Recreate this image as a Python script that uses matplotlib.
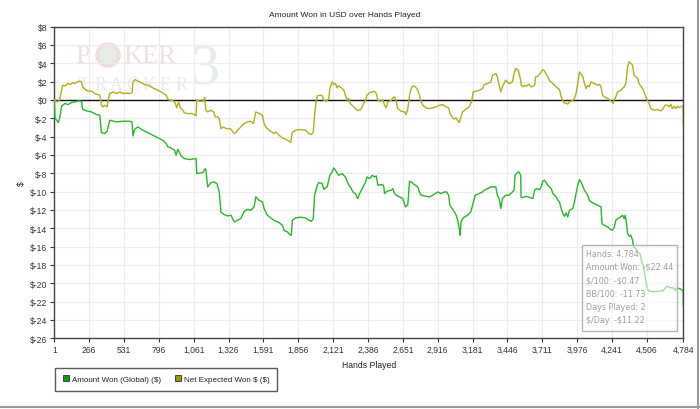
import matplotlib
matplotlib.use("Agg")
import matplotlib.pyplot as plt
from matplotlib.patches import Rectangle, Circle
from matplotlib.lines import Line2D
from matplotlib.transforms import IdentityTransform

plt.rcParams['font.family'] = ['Liberation Sans', 'DejaVu Sans']

# Amount Won (Global) ($)
won_hands = [1, 6, 19, 31, 44, 57, 82, 107, 132, 157, 183, 208, 216, 246, 284, 322, 347, 359, 385, 402,
             423, 473, 523, 574, 592, 599, 612, 637, 675, 725, 776, 826, 852, 864, 889, 915, 927, 940, 965, 990,
             1028, 1079, 1084, 1129, 1149, 1154, 1167, 1192, 1217, 1238, 1255, 1268, 1293, 1318, 1344, 1369, 1394, 1419, 1445, 1470,
             1495, 1520, 1533, 1558, 1583, 1596, 1621, 1647, 1672, 1710, 1735, 1748, 1773, 1793, 1803, 1811, 1836, 1874, 1912, 1937,
             1955, 1970, 1980, 2000, 2013, 2038, 2050, 2076, 2096, 2114, 2126, 2146, 2164, 2189, 2214, 2240, 2252, 2272, 2290, 2308,
             2323, 2348, 2368, 2378, 2399, 2419, 2436, 2449, 2462, 2487, 2505, 2512, 2530, 2563, 2575, 2588, 2601, 2626, 2651, 2671,
             2689, 2702, 2714, 2739, 2765, 2777, 2790, 2815, 2853, 2878, 2898, 2916, 2941, 2967, 2984, 2999, 3009, 3035, 3055, 3068,
             3080, 3088, 3093, 3110, 3143, 3168, 3181, 3201, 3232, 3257, 3270, 3295, 3320, 3358, 3370, 3383, 3396, 3408, 3433, 3459,
             3484, 3497, 3504, 3522, 3534, 3547, 3550, 3565, 3590, 3615, 3640, 3653, 3666, 3691, 3703, 3716, 3729, 3754, 3779, 3792,
             3817, 3830, 3842, 3855, 3868, 3880, 3893, 3905, 3918, 3943, 3956, 3968, 3981, 3994, 4006, 4032, 4057, 4069, 4082, 4107,
             4133, 4158, 4165, 4183, 4208, 4233, 4246, 4259, 4271, 4284, 4309, 4322, 4334, 4342, 4352, 4360, 4372, 4385, 4398, 4405,
             4423, 4430, 4455, 4468, 4480, 4493, 4506, 4518, 4544, 4582, 4632, 4658, 4683, 4708, 4721, 4733, 4759, 4782, 4784]
won_values = [0.0, -1.96, -2.22, -2.47, -1.85, -0.65, -0.4, -0.51, -0.29, -0.22, -0.11, -0.15, -1.02, -1.2, -1.31, -1.6, -1.67, -3.56, -3.67, -3.42,
              -2.22, -2.4, -2.33, -2.33, -2.4, -3.93, -3.2, -2.95, -3.31, -3.67, -4.04, -4.4, -4.76, -5.13, -5.24, -5.49, -6.04, -5.38, -6.11, -6.4,
              -6.51, -6.4, -8.04, -7.93, -7.49, -7.67, -9.49, -9.02, -8.95, -9.13, -10.04, -12.22, -12.51, -12.65, -12.58, -13.31, -13.13, -12.95, -12.15, -11.93,
              -12.04, -11.67, -10.58, -10.95, -11.13, -11.85, -12.58, -12.87, -13.13, -13.38, -13.67, -14.22, -14.4, -14.69, -14.76, -13.13, -12.87, -12.8, -12.87, -13.13,
              -13.24, -12.95, -10.4, -9.31, -9.02, -9.13, -9.75, -9.49, -8.22, -7.85, -7.42, -7.85, -8.22, -8.04, -8.4, -9.31, -9.49, -10.04, -10.22, -10.76,
              -10.2, -9.5, -8.95, -8.4, -8.58, -8.22, -8.4, -8.29, -9.31, -9.24, -9.31, -10.22, -9.96, -9.85, -9.67, -10.22, -10.4, -10.58, -10.76, -11.67,
              -11.42, -8.87, -8.95, -9.24, -9.49, -10.04, -10.4, -10.47, -10.58, -10.4, -10.22, -10.04, -10.22, -10.04, -10.04, -10.4, -11.49, -12.04, -12.51, -13.13,
              -14.04, -14.76, -13.31, -12.87, -12.58, -12.22, -11.49, -10.4, -10.22, -10.04, -9.85, -9.67, -9.49, -9.49, -10.4, -10.76, -11.85, -10.76, -10.4, -10.4,
              -10.04, -9.85, -8.22, -7.93, -7.85, -8.22, -10.6, -10.65, -10.51, -10.65, -10.76, -9.85, -9.67, -9.78, -9.49, -8.84, -8.76, -9.31, -9.67, -10.22,
              -10.58, -10.95, -11.13, -11.85, -12.4, -12.69, -12.33, -12.76, -12.04, -11.85, -11.13, -10.22, -9.31, -8.69, -8.95, -9.85, -10.4, -10.95, -11.13, -11.31,
              -11.49, -11.67, -13.49, -13.67, -13.85, -14.15, -14.22, -13.85, -13.13, -12.95, -12.76, -12.58, -12.95, -12.58, -13.49, -14.58, -14.87, -14.76, -15.31, -16.0,
              -16.2, -16.5, -16.8, -17.7, -18.1, -19.2, -20.3, -20.8, -20.9, -20.9, -20.8, -20.3, -20.5, -20.5, -20.8, -20.5, -20.6, -20.8, -22.44]

# Net Expected Won $ ($)
ev_hands = [1, 14, 24, 39, 51, 64, 82, 94, 107, 125, 140, 157, 175, 195, 208, 216, 233, 258, 284, 309,
            347, 359, 372, 385, 402, 410, 423, 448, 473, 498, 523, 561, 574, 592, 599, 612, 637, 662, 687, 713,
            751, 788, 826, 852, 864, 882, 902, 922, 932, 947, 960, 978, 990, 1016, 1041, 1066, 1079, 1084, 1104, 1129,
            1145, 1152, 1167, 1192, 1212, 1225, 1243, 1255, 1268, 1288, 1306, 1331, 1344, 1369, 1382, 1394, 1419, 1445, 1470, 1495,
            1515, 1533, 1558, 1583, 1596, 1609, 1634, 1672, 1684, 1710, 1735, 1760, 1785, 1798, 1811, 1836, 1874, 1912, 1937, 1955,
            1970, 1980, 1988, 2000, 2025, 2038, 2050, 2063, 2088, 2096, 2114, 2126, 2139, 2151, 2164, 2189, 2202, 2214, 2227, 2240,
            2252, 2265, 2277, 2303, 2323, 2336, 2353, 2368, 2378, 2399, 2419, 2436, 2449, 2462, 2479, 2500, 2512, 2525, 2537, 2563,
            2575, 2588, 2601, 2613, 2638, 2664, 2676, 2689, 2702, 2714, 2727, 2747, 2765, 2777, 2790, 2803, 2828, 2853, 2878, 2903,
            2929, 2954, 2979, 2999, 3009, 3025, 3042, 3055, 3068, 3080, 3093, 3105, 3131, 3156, 3168, 3176, 3186, 3206, 3232, 3257,
            3270, 3295, 3320, 3333, 3358, 3370, 3383, 3396, 3408, 3433, 3459, 3484, 3497, 3509, 3529, 3547, 3552, 3565, 3577, 3590,
            3610, 3628, 3640, 3653, 3661, 3678, 3696, 3716, 3729, 3741, 3754, 3767, 3779, 3792, 3805, 3817, 3830, 3842, 3855, 3868,
            3880, 3893, 3905, 3918, 3943, 3956, 3968, 3981, 3994, 4006, 4019, 4032, 4044, 4057, 4069, 4082, 4107, 4133, 4145, 4158,
            4170, 4183, 4196, 4221, 4241, 4251, 4259, 4271, 4284, 4309, 4334, 4347, 4360, 4372, 4385, 4398, 4410, 4423, 4436, 4448,
            4473, 4486, 4499, 4511, 4524, 4537, 4562, 4587, 4612, 4630, 4645, 4663, 4675, 4688, 4701, 4713, 4726, 4739, 4751, 4771,
            4782, 4784]
ev_values = [0.0, -0.15, -0.22, -0.04, 0.69, 1.6, 1.53, 1.67, 1.78, 1.67, 1.89, 1.78, 1.96, 2.04, 1.96, 1.42, 1.16, 0.95, 0.95, 0.69,
             0.51, -0.58, -0.76, -0.58, -0.76, -0.04, 0.69, 0.87, 0.69, 0.87, 0.69, 0.73, 0.69, 0.8, 1.89, 2.22, 2.04, 1.89, 1.67, 1.6,
             1.31, 1.05, 0.76, 0.51, 0.07, -0.04, -0.04, -0.4, -0.87, -0.22, -0.87, -1.13, -1.42, -1.49, -1.49, -1.6, -1.75, 0.0, -0.15, -0.15,
             0.25, -1.13, -1.31, -1.13, -1.31, -1.85, -1.85, -2.04, -3.13, -2.95, -3.13, -3.13, -3.2, -3.67, -3.56, -3.31, -2.95, -2.58, -2.4, -2.33,
             -2.58, -1.31, -1.49, -1.67, -2.58, -2.95, -3.31, -3.67, -3.49, -3.85, -4.15, -4.29, -4.51, -4.65, -3.56, -3.31, -3.24, -3.31, -3.67, -3.78,
             -3.49, -1.67, -0.58, 0.44, 0.51, 0.44, -0.04, -0.15, 0.07, 1.24, 1.96, 1.67, 1.78, 1.31, 1.53, 1.24, 1.05, 0.51, -0.04, 0.15,
             -0.4, -0.58, -0.76, -1.13, -1.13, -0.95, -0.4, -0.04, 0.51, 0.8, 0.87, 0.95, 0.69, -0.04, -0.15, -0.04, -0.58, -0.87, -0.22, -0.04,
             0.22, 0.33, -0.22, -0.95, -1.24, -1.31, -1.6, -0.95, 0.51, 1.24, 1.53, 1.42, 1.05, 0.51, -0.22, -0.58, -0.87, -0.95, -0.87, -0.76,
             -0.58, -0.51, -0.76, -0.87, -1.49, -1.85, -2.11, -1.96, -2.22, -2.47, -1.85, -1.31, -1.02, -0.76, -0.4, -0.04, 0.87, 0.95, 1.05, 1.24,
             1.67, 1.78, 1.96, 2.69, 2.87, 2.51, 1.6, 0.87, 1.42, 2.15, 1.78, 1.96, 2.87, 3.42, 3.24, 2.15, 1.6, 1.42, 1.6, 1.49,
             1.71, 1.42, 1.49, 1.6, 2.51, 2.58, 2.87, 3.31, 3.16, 2.8, 2.51, 2.07, 1.96, 1.78, 1.6, 1.42, 1.24, 1.13, 0.33, -0.04,
             -0.4, -0.33, -0.47, -0.22, -0.04, 0.15, 0.69, 1.78, 3.05, 2.8, 2.58, 1.78, 1.24, 1.6, 1.42, 1.96, 1.78, 1.6, 1.71, 1.42,
             0.51, 0.33, 0.25, 0.04, -0.22, -0.4, 0.04, 0.33, 0.87, 1.05, 1.42, 1.78, 3.6, 4.15, 3.96, 3.78, 2.69, 2.51, 2.33, 1.78,
             1.24, 0.87, 0.33, -0.04, -0.4, -0.95, -1.13, -1.05, -1.2, -0.95, -0.58, -0.58, -0.76, -0.47, -0.95, -0.69, -0.95, -0.69, -0.84, -0.69,
             -0.75, -2.6]

x_ticks = [1, 266, 531, 796, 1061, 1326, 1591, 1856, 2121, 2386, 2651, 2916, 3181, 3446, 3711, 3976, 4241, 4506, 4784]
y_ticks = list(range(-26, 9, 2))

series_labels = ["Amount Won (Global) ($)", "Net Expected Won $ ($)"]
info_lines = ["Hands: 4,784", "Amount Won: -$22.44", "$/100: -$0.47",
              "BB/100: -11.73", "Days Played: 2", "$/Day: -$11.22"]

won_color = '#2bb52b'
ev_color = '#b0b019'

W, H = 700, 410
fig = plt.figure(figsize=(7, 4.1), dpi=100)
ax = fig.add_axes([0.0776, 0.1724, 0.8986, 0.7605])
px = IdentityTransform()

# faint PokerTracker 3 watermark, in pixel coordinates (y measured from top)
wm_pink = '#f2dede'
ax.text(75, H - 57, "P", transform=px, fontsize=19, family='Liberation Serif',
        color=wm_pink, va='center', ha='left', zorder=0)
ax.add_patch(Circle((108, H - 56), 11, transform=px, facecolor='#e6ece6',
                    edgecolor=wm_pink, lw=2.5, zorder=0))
ax.text(123, H - 57, "KER", transform=px, fontsize=19, family='Liberation Serif',
        color=wm_pink, va='center', ha='left', zorder=0)
ax.text(205, H - 70, "3", transform=px, fontsize=42, family='Liberation Serif',
        color='#e5eee5', va='center', ha='center', zorder=0)
for i, ch in enumerate("TRACKER"):
    ax.text(84 + i * 16.2, H - 86, ch, transform=px, fontsize=13, family='Liberation Serif',
            color='#e8ebe8', va='center', ha='center', zorder=0)

ax.grid(True, color='#ececec', lw=0.8)
ax.axhline(0, color='#111111', lw=1, zorder=2.6)

ax.plot(won_hands, won_values, color=won_color, lw=1, zorder=3)
ax.plot(ev_hands, ev_values, color=ev_color, lw=1, zorder=3)

ax.set_xlim(1, 4784)
ax.set_ylim(-26, 8)
ax.set_xticks(x_ticks)
ax.set_xticklabels([f"{t:,}" for t in x_ticks])
ax.set_yticks(y_ticks)
ax.set_yticklabels([f"${t}" for t in y_ticks])
ax.tick_params(labelsize=6.2, colors='#333333', length=3, width=0.8, pad=2)
for s in ax.spines.values():
    s.set_color('#444444')
    s.set_linewidth(1)

ax.set_xlabel("Hands Played", fontsize=6.2, color='#222222', labelpad=4)
ax.set_ylabel("$", fontsize=6.2, color='#222222', labelpad=3)
fig.text(0.493, 0.963, "Amount Won in USD over Hands Played", fontsize=6, color='#222222',
         ha='center', va='center')

# info box
fig.patches.append(Rectangle((582, 78), 95, 86, transform=px, facecolor='white', alpha=0.55,
                             edgecolor='none', zorder=4))
fig.patches.append(Rectangle((582, 78), 95, 86, transform=px, facecolor='none',
                             edgecolor='#b5b5b5', lw=1, zorder=5))
for i, line in enumerate(info_lines):
    fig.text(586 / W, (156 - i * 13.4) / H, line, fontsize=5.8, color='#a0a0a0',
             family='DejaVu Sans', ha='left', va='center', zorder=6, parse_math=False)

# legend
handles = [Line2D([], [], marker='s', ls='none', markersize=5, markerfacecolor='#119911',
                  markeredgecolor='#333333', markeredgewidth=0.6),
           Line2D([], [], marker='s', ls='none', markersize=5, markerfacecolor='#999900',
                  markeredgecolor='#333333', markeredgewidth=0.6)]
leg = fig.legend(handles, [s.replace('$', r'\$') for s in series_labels],
                 loc='upper left', bbox_to_anchor=(54.5 / W, 1 - 369 / H), ncol=2,
                 fontsize=5.8, frameon=True, fancybox=False, handletextpad=0.2,
                 columnspacing=1.6, handlelength=1.0, borderpad=0.95, borderaxespad=0,
                 labelcolor='#222222')
leg.get_frame().set_edgecolor('#333333')
leg.get_frame().set_linewidth(1)

# outer edges of the chart panel
fig.add_artist(Line2D([0, 1], [0.004, 0.004], color='#9a9a9a', lw=1.5, transform=fig.transFigure))
fig.add_artist(Line2D([0.997, 0.997], [0, 1], color='#9a9a9a', lw=1.5, transform=fig.transFigure))

fig.savefig("out.png", dpi=100)
